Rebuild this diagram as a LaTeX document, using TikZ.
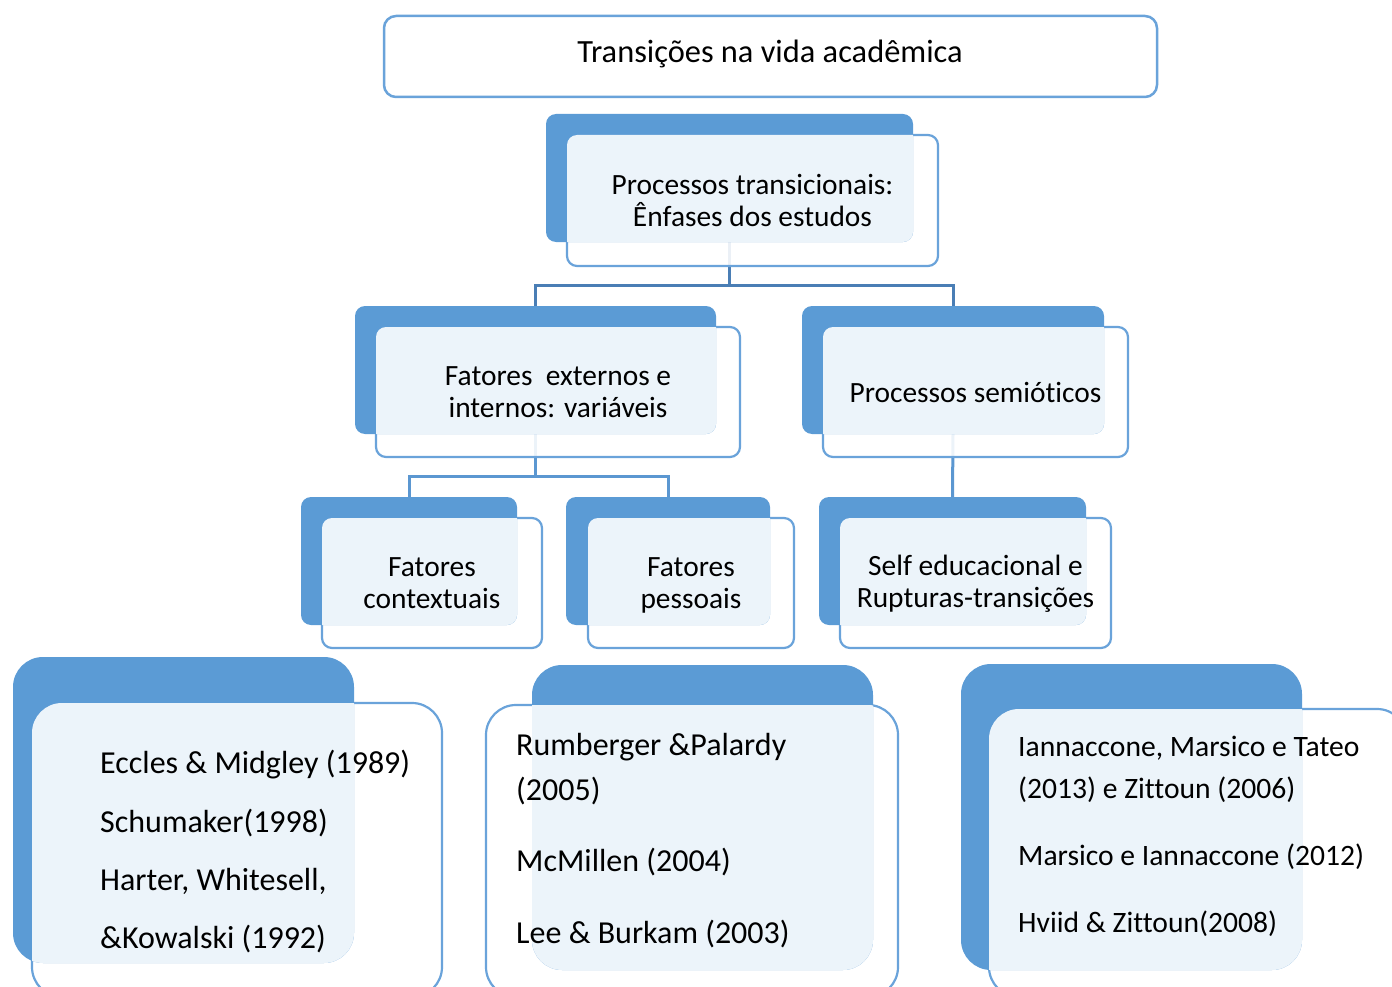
\documentclass[tikz,border=0pt]{standalone}
\usepackage{fontspec}
\setmainfont{Carlito}[Ligatures={NoCommon,NoContextual}]
\usetikzlibrary{fit}
\definecolor{accent}{HTML}{5B9BD5}
\definecolor{edge}{HTML}{6AA3DA}
\definecolor{linkA}{HTML}{4A7EB5}
\definecolor{linkB}{HTML}{5B97D1}
\pgfdeclarelayer{bg}
\pgfsetlayers{bg,main}

% A stacked pair: a solid accent card behind, a translucent outlined card in front.
% #1 name, #2 #3 corners of the back card, #4 #5 corners of the front card, #6 radius
\newcommand\stackbox[6]{%
  \node[frontcard, rounded corners=#6, fit={#4 #5}] (#1f) {};
  \node[backcard, rounded corners=#6, fit={#2 #3},
    path picture={\fill[white, opacity=.89, rounded corners=#6]
      (#1f.south west) rectangle (#1f.north east);}] (#1b) {};
}

\begin{document}
\begin{tikzpicture}[x=1pt, y=-1pt,
  frontcard/.style={inner sep=0pt, outer sep=0pt, fill=white, fill opacity=.89,
    draw=edge, line width=2.2pt},
  backcard/.style={inner sep=0pt, outer sep=0pt, fill=accent},
  titlecard/.style={inner sep=0pt, outer sep=0pt, fill=white, draw=edge,
    line width=2.5pt, rounded corners=12pt},
  headtxt/.style={font=\fontsize{32.4}{38}\selectfont, inner sep=0pt},
  midtxt/.style={font=\fontsize{29.4}{32.5}\selectfont, align=center, inner sep=0pt},
  reftxt/.style={font=\fontsize{32}{38}\selectfont, anchor=mid west, inner sep=0pt},
  reftxtsm/.style={reftxt, font=\fontsize{29.6}{36}\selectfont},
  linkone/.style={draw=linkA, line width=3pt},
  linktwo/.style={draw=linkB, line width=3pt}]

\useasboundingbox (0,0) rectangle (1392,987);
\clip (0,0) rectangle (1392,987);

% title
\node[titlecard, fit={(384,16) (1157,97)}] (T) {};
\node[headtxt] (Tt) at (770,54) {Transições na vida acadêmica};

% tree of cards
\stackbox{P}{(546,114)}{(913,242)}{(567,135)}{(938,266)}{10pt}
\stackbox{E}{(355,306)}{(716,434)}{(376,327)}{(740,457)}{10pt}
\stackbox{S}{(802,306)}{(1104,434)}{(823,327)}{(1128,457)}{10pt}
\stackbox{C}{(301,497)}{(517,625)}{(322,518)}{(542,648)}{10pt}
\stackbox{Q}{(566,497)}{(770,625)}{(588,518)}{(794,648)}{10pt}
\stackbox{R}{(819,497)}{(1086,625)}{(840,518)}{(1111,648)}{10pt}

% reference cards
\stackbox{L}{(13,657)}{(354,963)}{(32,703)}{(442,997)}{30pt}
\stackbox{M}{(532,665)}{(873,970)}{(486,705)}{(898,997)}{30pt}
\stackbox{N}{(961,664)}{(1302,970)}{(989,709)}{(1407,997)}{30pt}

% connectors
\coordinate (j1) at (0,285);
\coordinate (j2) at (0,476);
\begin{pgfonlayer}{bg}
  \draw[linkone] (Pb.south) -- (Pb.south |- j1) -| (Eb.north);
  \draw[linkone] (Pb.south |- j1) -| (Sb.north);
  \draw[linktwo] (Eb.south) -- (Eb.south |- j2) -| (Cb.north);
  \draw[linktwo] (Eb.south |- j2) -| (Qb.north);
  \draw[linktwo] (Sb.south) -- (Rb.north);
\end{pgfonlayer}

% card texts
\node[midtxt] (Pt) at (Pf.center) {Processos transicionais:\\Ênfases dos estudos};
\node[midtxt] (Et) at (Ef.center) {Fatores\ \ externos e\\internos: variáveis};
\node[midtxt] (St) at (Sf.center) {Processos semióticos};
\node[midtxt] (Ct) at (Cf.center) {Fatores\\contextuais};
\node[midtxt] (Qt) at ([yshift=-2.5pt]Qf.center) {Fatores\\pessoais};
\node[midtxt] (Rt) at ([yshift=-1pt]Rf.center) {Self educacional e\\Rupturas-transições};

\node[reftxt] (L1) at (100,771) {Eccles \& Midgley (1989)};
\node[reftxt] (L2) at (100,830) {Schumaker(1998)};
\node[reftxt] (L3) at (100,888) {Harter, Whitesell,};
\node[reftxt] (L4) at (100,946) {\&Kowalski (1992)};

\node[reftxt] (M1) at (516,753) {Rumberger \&Palardy};
\node[reftxt] (M2) at (516,798) {(2005)};
\node[reftxt] (M3) at (516,869) {McMillen (2004)};
\node[reftxt] (M4) at (516,941) {Lee \& Burkam (2003)};

\node[reftxtsm] (N1) at (1018,754) {Iannaccone, Marsico e Tateo};
\node[reftxtsm] (N2) at (1018,796) {(2013) e Zittoun (2006)};
\node[reftxtsm] (N3) at (1018,863) {Marsico e Iannaccone (2012)};
\node[reftxtsm] (N4) at (1018,930) {Hviid \& Zittoun(2008)};
\end{tikzpicture}
\end{document}
